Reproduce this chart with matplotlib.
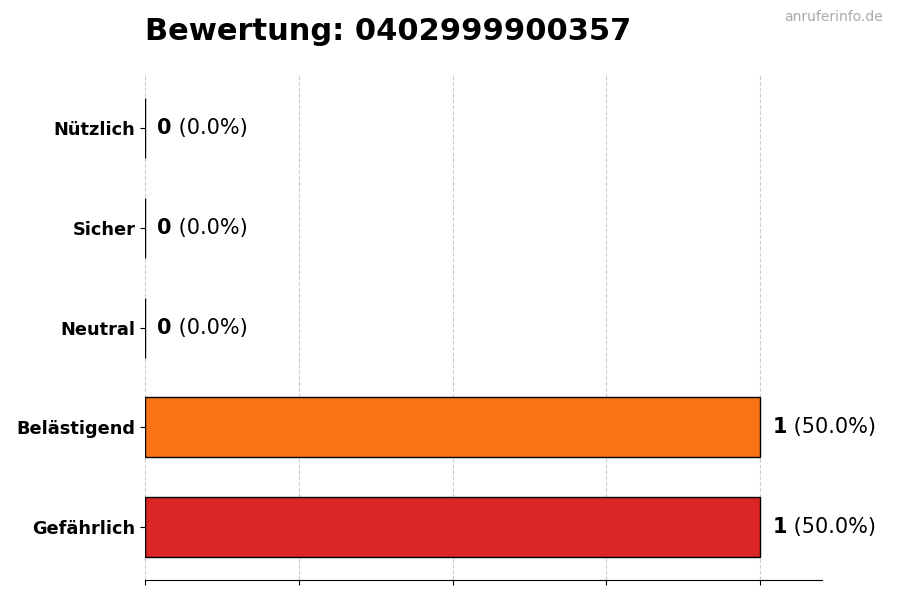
import matplotlib
matplotlib.use("Agg")
import matplotlib.pyplot as plt

# Daten (von unten nach oben)
kategorien = ["Gefährlich", "Belästigend", "Neutral", "Sicher", "Nützlich"]
anzahl = [1, 1, 0, 0, 0]
prozent = [50.0, 50.0, 0.0, 0.0, 0.0]
farben = ["#dc2626", "#f97316", "#9ca3af", "#3b82f6", "#22c55e"]
nummer = "0402999900357"

fig = plt.figure(figsize=(9, 6), dpi=100)
ax = fig.add_axes([0.161, 0.033, 0.752, 0.842])

ax.barh(kategorien, anzahl, height=0.6, color=farben, edgecolor="black", linewidth=1)

ax.set_xlim(0, max(anzahl) * 1.1)
ax.set_xticks([0, 0.25, 0.5, 0.75, 1.0])
ax.set_xticklabels([])
ax.grid(axis="x", linestyle="--", color="#cccccc", linewidth=0.8)
ax.set_axisbelow(True)

for s in ["top", "right", "left"]:
    ax.spines[s].set_visible(False)

for lbl in ax.get_yticklabels():
    lbl.set_fontweight("bold")
    lbl.set_fontsize(12.8)

# Werte neben den Balken
for i, (n, p) in enumerate(zip(anzahl, prozent)):
    t = ax.text(n + 0.02, i, str(n), va="center", ha="left", fontsize=15, fontweight="bold")
    ax.annotate(f" ({p:.1f}%)", xy=(1, 0.5), xycoords=t, va="center", ha="left", fontsize=15)

fig.text(0.161, 0.948, f"Bewertung: {nummer}", fontsize=22, fontweight="bold", ha="left", va="center")
fig.text(0.981, 0.971, "anruferinfo.de", fontsize=10, color="#aaaaaa", ha="right", va="center")

fig.savefig("out.png", dpi=100)
